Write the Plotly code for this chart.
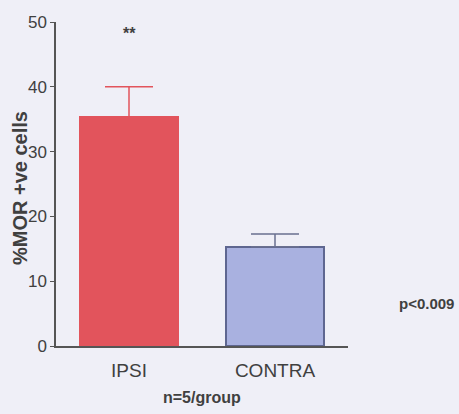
import plotly.graph_objects as go

categories = ["IPSI", "CONTRA"]
values = [35.3, 15.3]
errors = [4.7, 2.0]
fill_colors = ["#e2545c", "#a9b1e0"]
line_colors = ["#e2545c", "#5e6690"]
err_colors = ["#e2545c", "#6a7090"]
y_ticks = [0, 10, 20, 30, 40, 50]

fig = go.Figure()
for i, c in enumerate(categories):
    fig.add_trace(go.Bar(
        x=[i], y=[values[i]], width=0.667,
        marker=dict(color=fill_colors[i], line=dict(color=line_colors[i], width=2)),
        error_y=dict(type="data", array=[errors[i]], symmetric=False,
                     arrayminus=[0], color=err_colors[i], thickness=1.5, width=24),
        showlegend=False,
        hoverinfo="skip",
    ))

font_main = "Arial, Liberation Sans, sans-serif"
L, T, W, H = 56, 22, 292, 324


def px_x(v):
    return (v - L) / W


def px_y(v):
    return (T + H - v) / H


fig.update_layout(
    width=459, height=414,
    margin=dict(l=L, r=459 - L - W, t=T, b=414 - T - H),
    paper_bgcolor="#efeff7", plot_bgcolor="#efeff7",
    bargap=0,
    font=dict(family=font_main, color="#404040"),
    xaxis=dict(range=[-0.5, 1.5], tickmode="array", tickvals=[0, 1], ticktext=categories,
               showline=True, linecolor="#555555", linewidth=1.5, ticks="",
               ticklabelstandoff=6,
               showgrid=False, zeroline=False, automargin=False,
               tickfont=dict(size=19, color="#404040")),
    yaxis=dict(range=[0, 50], tickvals=y_ticks, showline=True, linecolor="#555555",
               linewidth=1.5, ticks="outside", ticklen=4, tickcolor="#555555",
               ticklabelstandoff=0,
               showgrid=False, zeroline=False, automargin=False,
               tickfont=dict(size=17, color="#404040")),
    annotations=[
        dict(text="<b>%MOR +ve cells</b>", textangle=-90, x=px_x(20), y=px_y(188),
             xref="paper", yref="paper", xanchor="center", yanchor="middle",
             showarrow=False, font=dict(size=20, color="#404040", family=font_main)),
        dict(text="<b>**</b>", x=0, y=48.3, xref="x", yref="y", showarrow=False,
             font=dict(size=16, color="#404040")),
        dict(text="<b>n=5/group</b>", x=0.5, y=px_y(397), xref="x", yref="paper",
             yanchor="middle", showarrow=False, font=dict(size=16, color="#404040")),
        dict(text="<b>p<0.009</b>", x=px_x(456), y=px_y(303), xref="paper", yref="paper",
             xanchor="right", yanchor="middle", showarrow=False,
             font=dict(size=15, color="#404040")),
    ],
)

fig.write_html("out.html", config={"displayModeBar": False},
               post_script="document.body.style.margin='0';")
